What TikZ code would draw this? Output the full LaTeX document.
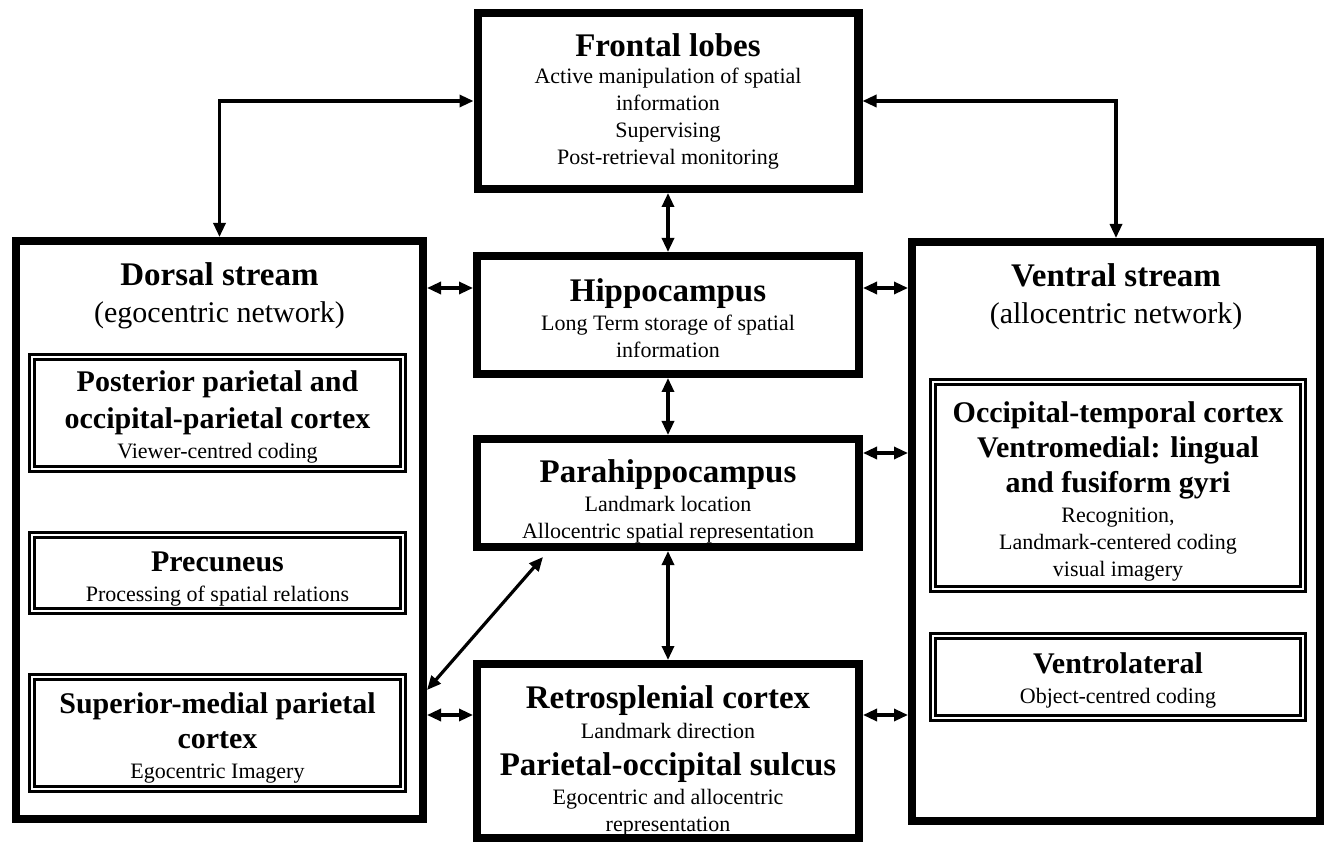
\documentclass[tikz,border=0pt]{standalone}
\usepackage{fontspec}
\setmainfont{Liberation Serif}
\usetikzlibrary{arrows.meta,positioning,calc}

\newcommand{\ttl}{\fontsize{16.5}{20}\selectfont\bfseries}
\newcommand{\sttl}{\fontsize{15}{18}\selectfont\bfseries}
\newcommand{\netw}{\fontsize{15}{18}\selectfont}
\newcommand{\bdy}{\fontsize{11}{13.5}\selectfont}

\tikzset{
    area/.style={draw, line width=4.2pt, inner sep=0pt, align=center, font=\bdy},
    region/.style={draw, line width=1.4pt, double, double distance=1.2pt, inner sep=0pt, align=center, font=\bdy},
    link/.style={<->, >={Triangle[length=7pt,width=6pt]}, line width=1.6pt},
}

\begin{document}
\begin{tikzpicture}[x=0.5pt,y=-0.5pt]
        \useasboundingbox (0,0) rectangle (1328,844);

        %%%% Centre column ==============================
        \node[area, minimum width=190.3pt, minimum height=87.8pt] (frontal) at (668,101)
            {{\ttl Frontal lobes}\\ Active manipulation of spatial\\ information\\ Supervising\\ Post-retrieval monitoring};
        \node[area, minimum width=190.8pt, minimum height=58.8pt] (hippo) at (668,315)
            {\rule{0pt}{14.4pt}{\ttl Hippocampus}\\[1pt] Long Term storage of spatial\\ information};
        \node[area, minimum width=190.8pt, minimum height=53.8pt] (para) at (668,493)
            {\rule{0pt}{19.5pt}{\ttl Parahippocampus}\\[1pt] Landmark location\\ Allocentric spatial representation};
        \node[area, minimum width=190.8pt, minimum height=86.8pt] (retro) at (668,751)
            {\rule{0pt}{21.4pt}{\ttl Retrosplenial cortex}\\[1.5pt] Landmark direction\\[5pt] {\ttl Parietal-occipital sulcus}\\[1pt] Egocentric and allocentric\\ representation};

        %%%% Dorsal stream ==============================
        \node[area, minimum width=203.3pt, minimum height=288.8pt] (dorsal) at (219.5,530) {};
        \node[align=center] (dorsalhead) at (dorsal.north |- 0,296)
            {{\ttl Dorsal stream}\\[6.5pt] {\netw (egocentric network)}};
        \node[region, minimum width=185.5pt, minimum height=56pt] (postpar) at (217.5,413)
            {\rule{0pt}{14.4pt}{\sttl Posterior parietal and}\\[4pt] {\sttl occipital-parietal cortex}\\[1.5pt] Viewer-centred coding};
        \node[region, minimum width=185.5pt, minimum height=38pt] (precun) at (217.5,573)
            {\rule{0pt}{16pt}{\sttl Precuneus}\\[1.5pt] Processing of spatial relations};
        \node[region, minimum width=185.5pt, minimum height=56pt] (supmed) at (217.5,733)
            {\rule{0pt}{15.4pt}{\sttl Superior-medial parietal}\\[4pt] {\sttl cortex}\\[1.5pt] Egocentric Imagery};

        %%%% Ventral stream =============================
        \node[area, minimum width=203.8pt, minimum height=289.3pt] (ventral) at (1116,531.5) {};
        \node[align=center] (ventralhead) at (ventral.north |- 0,297)
            {{\ttl Ventral stream}\\[6.5pt] {\netw (allocentric network)}};
        \node[region, minimum width=185pt, minimum height=103.5pt] (occtemp) at (1118,485.5)
            {\rule{0pt}{16.4pt}{\sttl Occipital-temporal cortex}\\[3pt] {\sttl Ventromedial: lingual}\\[3pt] {\sttl and fusiform gyri}\\[1.5pt] Recognition,\\ Landmark-centered coding\\ visual imagery};
        \node[region, minimum width=185pt, minimum height=41pt] (ventlat) at (1118,677)
            {\rule{0pt}{13.4pt}{\sttl Ventrolateral}\\[1.5pt] Object-centred coding};

        %%%% Arcs =======================================
        \draw[link] (frontal.west) -| (dorsal.north);
        \draw[link] (frontal.east) -| (ventral.north);
        \draw[link] (frontal.south) -- (hippo.north);
        \draw[link] (hippo.south) -- (para.north);
        \draw[link] (para.south) -- (retro.north);
        \draw[link] (dorsal.east |- 0,288) -- (hippo.west |- 0,288);
        \draw[link] (hippo.east |- 0,288) -- (ventral.west |- 0,288);
        \draw[link] (para.east |- 0,453) -- (ventral.west |- 0,453);
        \draw[link] (dorsal.east |- 0,715) -- (retro.west |- 0,715);
        \draw[link] (retro.east |- 0,715) -- (ventral.west |- 0,715);
        \draw[link] (dorsal.east |- 0,690) -- ($(para.south west)+(70,6)$);
    \end{tikzpicture}
\end{document}
